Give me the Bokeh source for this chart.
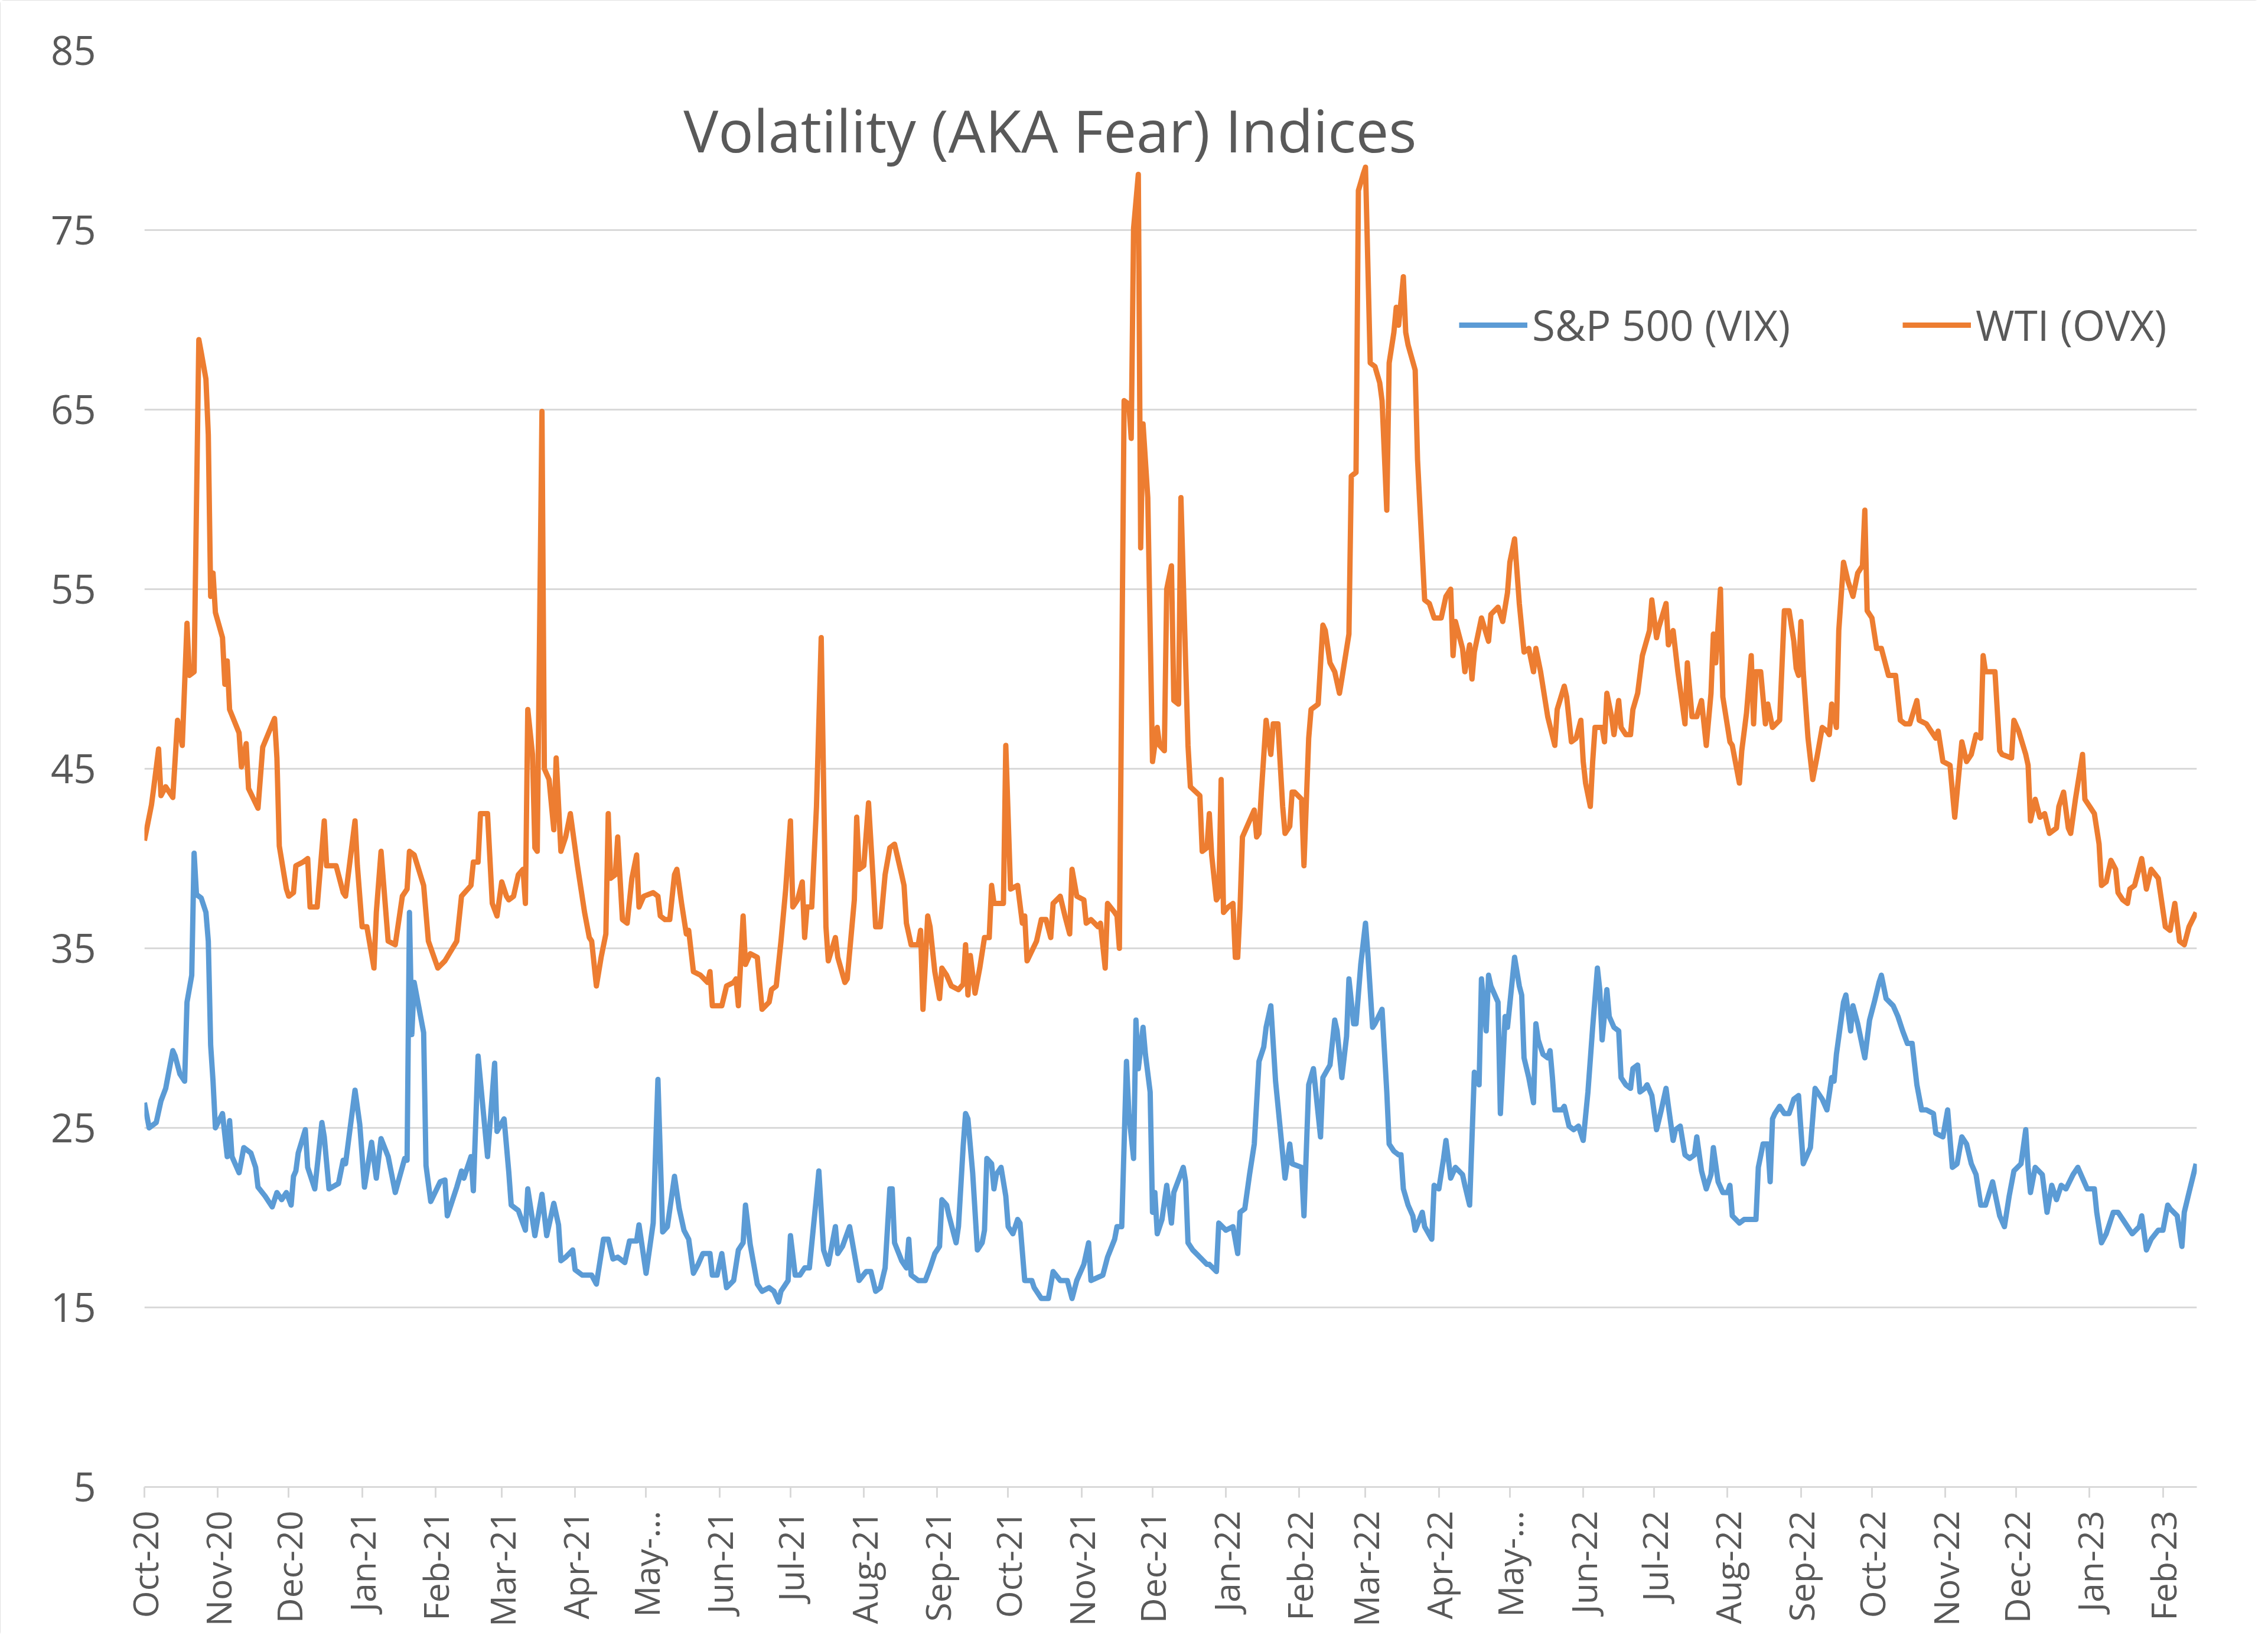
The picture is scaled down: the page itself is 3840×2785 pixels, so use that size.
import pandas as pd
from math import pi
from bokeh.plotting import figure
from bokeh.models import Range1d, FixedTicker, Label, Legend, LegendItem
from bokeh.embed import file_html
from bokeh.resources import INLINE

# ---------------- data ----------------
START_DATE = "2020-10-01"          # x values below are days after this date

month_labels = ["Oct-20", "Nov-20", "Dec-20", "Jan-21", "Feb-21", "Mar-21", "Apr-21", "May-…",
                "Jun-21", "Jul-21", "Aug-21", "Sep-21", "Oct-21", "Nov-21", "Dec-21", "Jan-22",
                "Feb-22", "Mar-22", "Apr-22", "May-…", "Jun-22", "Jul-22", "Aug-22", "Sep-22",
                "Oct-22", "Nov-22", "Dec-22", "Jan-23", "Feb-23"]
y_ticks = [5, 15, 25, 35, 45, 55, 65, 75, 85]
last_day = 867.3

series_names = ["S&P 500 (VIX)", "WTI (OVX)"]

ovx_day = [
    0, 3, 4, 6, 7, 9, 12, 14, 16, 18, 19, 21, 23, 24, 26, 27, 28, 29, 30, 33,
    34, 35, 36, 40, 41, 43, 44, 48, 50, 55, 56, 57, 60, 61, 63, 64, 67, 69, 70, 73,
    76, 77, 81, 84, 85, 89, 90, 92, 94, 97, 98, 100, 103, 106, 109, 111, 112, 114, 118, 120,
    124, 127, 132, 134, 138, 139, 141, 142, 145, 146, 147, 149, 151, 153, 154, 156, 158, 160, 161, 162,
    164, 165, 166, 168, 169, 171, 173, 174, 176, 178, 180, 183, 186, 188, 189, 191, 193, 195, 196, 197,
    199, 200, 202, 204, 206, 208, 209, 211, 215, 217, 218, 220, 222, 224, 225, 227, 229, 230, 232, 235,
    238, 239, 240, 244, 246, 249, 250, 251, 253, 254, 256, 259, 261, 264, 265, 267, 269, 271, 273, 274,
    276, 278, 279, 280, 282, 284, 286, 288, 289, 292, 293, 296, 297, 300, 301, 302, 304, 306, 308, 309,
    311, 313, 315, 317, 320, 321, 322, 324, 327, 328, 329, 331, 332, 334, 336, 337, 339, 341, 344, 346,
    347, 348, 349, 351, 353, 355, 357, 358, 359, 363, 364, 366, 369, 371, 372, 373, 377, 379, 381, 383,
    384, 387, 389, 391, 392, 394, 397, 398, 400, 403, 404, 406, 407, 410, 411, 412, 414, 416, 417, 418,
    420, 421, 422, 424, 426, 428, 429, 431, 432, 434, 435, 437, 438, 441, 442, 446, 447, 449, 450, 451,
    453, 454, 455, 456, 458, 460, 461, 462, 463, 464, 467, 469, 470, 471, 472, 474, 476, 477, 479, 481,
    482, 484, 485, 486, 489, 490, 492, 493, 496, 498, 499, 501, 503, 505, 506, 509, 510, 512, 513, 515,
    516, 518, 520, 522, 523, 525, 526, 528, 529, 530, 532, 533, 534, 537, 538, 541, 543, 545, 548, 550,
    552, 553, 554, 557, 558, 560, 561, 562, 565, 568, 569, 572, 574, 576, 577, 579, 581, 583, 585, 587,
    588, 590, 593, 596, 597, 600, 601, 603, 605, 607, 608, 609, 611, 612, 613, 616, 617, 618, 620, 621,
    623, 624, 626, 628, 629, 631, 633, 636, 637, 639, 640, 643, 644, 646, 648, 651, 652, 654, 656, 658,
    660, 662, 663, 664, 666, 667, 670, 671, 674, 675, 677, 679, 680, 681, 683, 685, 686, 688, 691, 693,
    695, 697, 698, 699, 700, 701, 703, 705, 707, 709, 711, 712, 713, 715, 716, 718, 720, 722, 724, 726,
    727, 728, 730, 732, 734, 737, 740, 742, 744, 746, 749, 750, 753, 755, 757, 758, 760, 763, 765, 766,
    768, 770, 772, 774, 776, 777, 778, 782, 784, 785, 789, 790, 792, 795, 796, 797, 799, 801, 803, 805,
    808, 809, 811, 813, 814, 816, 819, 820, 822, 824, 826, 827, 829, 831, 833, 834, 836, 838, 839, 841,
    844, 846, 848, 851, 854, 856, 858, 860, 862, 864, 867]
ovx = [
    41.0, 43.0, 44.0, 46.1, 43.5, 44.0, 43.4, 47.7, 46.3, 53.1, 50.2, 50.4, 68.9, 68.2, 66.7, 63.6, 54.6, 55.9, 53.7, 52.3,
    49.7, 51.0, 48.3, 47.0, 45.1, 46.4, 43.9, 42.8, 46.2, 47.8, 45.6, 40.7, 38.3, 37.9, 38.1, 39.6, 39.8, 40.0, 37.3, 37.3,
    42.1, 39.6, 39.6, 38.1, 37.9, 42.1, 39.6, 36.2, 36.2, 33.9, 37.0, 40.4, 35.4, 35.2, 37.9, 38.3, 40.4, 40.2, 38.5, 35.4,
    33.9, 34.3, 35.4, 37.9, 38.5, 39.8, 39.8, 42.5, 42.5, 40.0, 37.5, 36.8, 38.7, 37.9, 37.7, 37.9, 39.1, 39.4, 37.5, 48.3,
    45.8, 40.6, 40.4, 64.9, 45.0, 44.4, 41.6, 45.6, 40.4, 41.2, 42.5, 39.6, 37.0, 35.6, 35.4, 32.9, 34.5, 35.8, 42.5, 38.9,
    39.1, 41.2, 36.6, 36.4, 38.9, 40.2, 37.3, 37.9, 38.1, 37.9, 36.8, 36.6, 36.6, 39.1, 39.4, 37.5, 35.8, 36.0, 33.7, 33.5,
    33.1, 33.7, 31.8, 31.8, 32.9, 33.1, 33.3, 31.8, 36.8, 34.1, 34.7, 34.5, 31.6, 32.0, 32.7, 32.9, 35.4, 38.3, 42.1, 37.3,
    37.7, 38.7, 35.6, 37.3, 37.3, 42.9, 52.3, 36.2, 34.3, 35.6, 34.5, 33.1, 33.3, 37.7, 42.3, 39.4, 39.6, 43.1, 38.7, 36.2,
    36.2, 39.1, 40.6, 40.8, 39.1, 38.5, 36.4, 35.2, 35.2, 36.0, 31.6, 36.8, 36.2, 33.7, 32.2, 33.9, 33.5, 32.9, 32.7, 33.0,
    35.2, 32.4, 34.6, 32.5, 33.9, 35.6, 35.6, 38.5, 37.5, 37.5, 46.3, 38.3, 38.5, 36.4, 36.8, 34.3, 35.4, 36.6, 36.6, 35.6,
    37.5, 37.9, 36.8, 35.8, 39.4, 37.9, 37.7, 36.4, 36.6, 36.2, 36.4, 33.9, 37.5, 37.0, 36.8, 35.0, 65.5, 65.3, 63.4, 75.1,
    78.1, 57.3, 64.2, 60.1, 45.4, 47.3, 46.3, 46.0, 55.0, 56.3, 48.8, 48.6, 60.1, 46.3, 44.0, 43.5, 40.4, 40.6, 42.5, 40.2,
    37.7, 37.9, 44.4, 37.0, 37.3, 37.5, 34.5, 34.5, 37.3, 41.2, 42.1, 42.7, 41.2, 41.4, 43.7, 47.7, 45.8, 47.5, 47.5, 42.9,
    41.4, 41.8, 43.7, 43.7, 43.3, 39.6, 46.7, 48.3, 48.6, 53.0, 52.7, 50.9, 50.4, 49.2, 50.0, 52.5, 61.3, 61.5, 77.2, 78.1,
    78.5, 67.6, 67.4, 66.5, 65.5, 59.4, 67.6, 69.3, 70.7, 69.7, 72.4, 69.3, 68.6, 67.2, 62.2, 54.4, 54.2, 53.4, 53.4, 54.6,
    55.0, 51.3, 53.2, 51.7, 50.4, 51.9, 50.0, 51.5, 53.4, 52.1, 53.6, 54.0, 53.2, 54.8, 56.5, 57.8, 54.2, 51.5, 51.7, 50.4,
    51.7, 50.4, 47.9, 46.3, 48.3, 49.6, 49.0, 46.5, 46.7, 47.7, 45.4, 44.2, 42.9, 45.4, 47.3, 47.3, 46.5, 49.2, 47.9, 46.9,
    48.8, 47.3, 46.9, 46.9, 48.3, 49.2, 51.3, 52.7, 54.4, 52.3, 52.9, 54.2, 51.9, 52.7, 50.4, 47.5, 50.9, 47.9, 47.9, 48.8,
    46.3, 49.2, 52.5, 50.9, 55.0, 49.0, 46.5, 46.3, 44.2, 46.0, 48.1, 51.3, 47.5, 50.4, 50.4, 47.5, 48.6, 47.3, 47.7, 53.8,
    53.8, 52.1, 50.6, 50.2, 53.2, 50.4, 46.7, 44.4, 45.8, 47.3, 47.1, 46.9, 48.6, 47.3, 52.7, 56.5, 55.4, 54.6, 55.9, 56.3,
    59.4, 53.8, 53.4, 51.7, 51.7, 50.2, 50.2, 47.7, 47.5, 47.5, 48.8, 47.7, 47.5, 47.1, 46.7, 47.1, 45.4, 45.2, 42.3, 43.7,
    46.5, 45.4, 45.8, 46.9, 46.7, 51.3, 50.4, 50.4, 46.0, 45.8, 45.6, 47.7, 47.1, 45.8, 45.2, 42.1, 43.3, 42.3, 42.5, 41.4,
    41.7, 42.9, 43.7, 41.7, 41.4, 43.3, 45.8, 43.3, 42.9, 42.5, 40.8, 38.5, 38.7, 39.9, 39.4, 38.1, 37.7, 37.5, 38.3, 38.5,
    40.0, 38.3, 39.4, 38.9, 36.2, 36.0, 37.5, 35.4, 35.2, 36.2, 37.0]

vix_day = [
    0, 2, 5, 7, 9, 12, 13, 15, 17, 18, 20, 21, 22, 24, 26, 27, 28, 29, 30, 33,
    35, 36, 37, 40, 42, 45, 47, 48, 51, 54, 56, 58, 60, 62, 63, 64, 65, 68, 69, 72,
    75, 76, 78, 82, 84, 85, 89, 91, 93, 96, 98, 100, 103, 106, 110, 111, 112, 113, 114, 118,
    119, 121, 125, 127, 128, 132, 134, 135, 138, 139, 141, 145, 148, 149, 152, 154, 155, 158, 161, 162,
    165, 168, 170, 173, 175, 176, 178, 181, 182, 185, 189, 191, 194, 196, 198, 200, 203, 205, 208, 209,
    212, 215, 217, 219, 221, 224, 226, 228, 230, 232, 234, 236, 239, 240, 242, 244, 246, 249, 251, 253,
    254, 256, 259, 261, 264, 266, 268, 269, 272, 273, 275, 277, 279, 281, 284, 285, 287, 289, 292, 293,
    295, 298, 300, 302, 305, 307, 309, 311, 313, 315, 316, 317, 320, 322, 323, 324, 327, 330, 332, 334,
    336, 337, 339, 340, 343, 344, 346, 347, 348, 350, 352, 354, 355, 356, 358, 359, 360, 362, 364, 365,
    367, 369, 370, 372, 375, 376, 379, 382, 384, 387, 390, 392, 394, 397, 399, 400, 405, 407, 410, 411,
    413, 415, 416, 418, 419, 420, 422, 423, 425, 426, 427, 428, 430, 432, 434, 435, 439, 440, 441, 443,
    446, 449, 450, 453, 454, 457, 460, 462, 463, 465, 467, 469, 471, 473, 474, 476, 478, 480, 482, 484,
    485, 489, 490, 492, 494, 497, 498, 501, 503, 504, 506, 508, 509, 511, 512, 514, 516, 517, 519, 520,
    523, 525, 526, 528, 530, 531, 532, 534, 536, 537, 540, 541, 544, 545, 547, 549, 550, 552, 554, 557,
    558, 560, 562, 564, 565, 567, 568, 569, 572, 573, 575, 576, 579, 581, 582, 583, 585, 587, 588, 589,
    591, 593, 594, 595, 596, 599, 600, 602, 604, 606, 608, 610, 612, 614, 615, 616, 618, 619, 621, 623,
    624, 626, 628, 629, 631, 632, 634, 635, 637, 639, 641, 643, 644, 646, 647, 649, 651, 653, 655, 656,
    658, 660, 662, 663, 665, 667, 669, 670, 671, 674, 676, 678, 681, 682, 684, 686, 687, 688, 689, 691,
    693, 695, 697, 699, 701, 704, 706, 709, 711, 713, 714, 715, 718, 719, 721, 722, 724, 727, 729, 731,
    733, 734, 736, 739, 741, 743, 745, 747, 749, 751, 753, 756, 757, 760, 762, 764, 766, 768, 770, 772,
    774, 776, 778, 781, 784, 786, 788, 790, 793, 795, 796, 797, 799, 802, 804, 806, 808, 810, 812, 815,
    817, 819, 821, 824, 825, 827, 829, 832, 834, 836, 839, 840, 843, 844, 846, 848, 851, 853, 855, 856,
    859, 861, 862, 864, 867]
vix = [
    26.4, 25.0, 25.3, 26.5, 27.2, 29.3, 29.0, 28.0, 27.6, 32.0, 33.5, 40.3, 38.0, 37.8, 37.0, 35.4, 29.6, 27.6, 25.0, 25.8,
    23.4, 25.4, 23.4, 22.5, 23.9, 23.6, 22.8, 21.7, 21.2, 20.6, 21.4, 21.0, 21.4, 20.7, 22.3, 22.6, 23.6, 24.9, 22.8, 21.6,
    25.3, 24.5, 21.6, 21.9, 23.2, 23.0, 27.1, 25.2, 21.7, 24.2, 22.2, 24.4, 23.4, 21.4, 23.3, 23.2, 37.0, 30.2, 33.1, 30.3,
    22.9, 20.9, 22.0, 22.1, 20.1, 21.7, 22.6, 22.2, 23.4, 21.5, 29.0, 23.4, 28.6, 24.8, 25.5, 22.5, 20.7, 20.4, 19.3, 21.6,
    19.0, 21.3, 19.0, 20.8, 19.6, 17.6, 17.8, 18.2, 17.1, 16.8, 16.8, 16.3, 18.8, 18.8, 17.7, 17.8, 17.5, 18.7, 18.7, 19.6,
    16.9, 19.7, 27.7, 19.2, 19.5, 22.3, 20.5, 19.3, 18.8, 16.9, 17.4, 18.0, 18.0, 16.8, 16.8, 18.0, 16.1, 16.5, 18.2, 18.6,
    20.7, 18.5, 16.3, 15.9, 16.1, 15.9, 15.3, 15.9, 16.5, 19.0, 16.8, 16.8, 17.2, 17.2, 21.2, 22.6, 18.2, 17.4, 19.5, 18.0,
    18.4, 19.5, 18.0, 16.5, 17.0, 17.0, 15.9, 16.1, 17.2, 21.6, 21.6, 18.6, 17.6, 17.2, 18.8, 16.8, 16.5, 16.5, 17.2, 18.0,
    18.4, 21.0, 20.7, 20.1, 18.6, 19.5, 24.0, 25.8, 25.5, 22.5, 18.2, 18.6, 19.3, 23.3, 23.0, 21.6, 22.4, 22.8, 21.2, 19.5,
    19.1, 19.9, 19.7, 16.5, 16.5, 16.1, 15.5, 15.5, 17.0, 16.5, 16.5, 15.5, 16.5, 17.4, 18.6, 16.5, 16.8, 17.8, 18.8, 19.5,
    19.5, 28.7, 25.8, 23.3, 31.0, 28.3, 30.6, 29.1, 27.0, 20.3, 21.4, 19.1, 19.9, 21.8, 19.7, 21.4, 22.8, 22.0, 18.6, 18.2,
    17.8, 17.4, 17.4, 17.0, 19.7, 19.3, 19.5, 18.0, 20.3, 20.5, 22.4, 24.1, 28.7, 29.5, 30.6, 31.8, 27.6, 24.9, 22.2, 24.1,
    23.0, 22.8, 20.1, 27.4, 28.3, 24.5, 27.8, 28.5, 31.0, 30.4, 27.8, 30.1, 33.3, 30.8, 30.8, 34.1, 36.4, 34.7, 30.6, 30.8,
    31.6, 27.0, 24.1, 23.7, 23.5, 23.5, 21.6, 20.7, 20.1, 19.3, 20.3, 19.5, 18.8, 21.8, 21.6, 23.3, 24.3, 22.2, 22.8, 22.4,
    21.8, 20.7, 28.1, 27.4, 33.3, 30.4, 33.5, 32.9, 32.0, 25.8, 31.2, 30.6, 34.5, 32.9, 32.4, 28.9, 27.8, 26.4, 30.8, 29.9,
    29.1, 28.9, 29.3, 27.8, 26.0, 26.0, 26.2, 25.1, 24.9, 25.1, 24.3, 27.0, 30.6, 33.9, 32.7, 29.9, 32.7, 31.2, 30.6, 30.4,
    27.8, 27.4, 27.2, 28.3, 28.5, 27.0, 27.2, 27.4, 26.8, 24.9, 26.0, 27.2, 26.2, 24.3, 24.9, 25.1, 23.5, 23.3, 23.5, 24.5,
    22.6, 21.6, 22.4, 23.9, 22.0, 21.4, 21.4, 21.8, 20.1, 19.7, 19.9, 19.9, 19.9, 22.8, 24.1, 24.1, 22.0, 25.5, 25.8, 26.2,
    25.8, 25.8, 26.6, 26.8, 23.0, 23.9, 27.2, 26.6, 26.0, 27.8, 27.6, 29.1, 32.0, 32.4, 30.4, 31.8, 30.8, 28.9, 31.0, 32.0,
    33.1, 33.5, 32.2, 31.8, 31.2, 30.4, 29.7, 29.7, 27.4, 26.0, 26.0, 25.8, 24.7, 24.5, 26.0, 22.8, 23.0, 24.5, 24.1, 23.0,
    22.4, 20.7, 20.7, 22.0, 20.1, 19.5, 21.2, 22.6, 23.0, 24.9, 22.8, 21.4, 22.8, 22.4, 20.3, 21.8, 21.0, 21.8, 21.6, 22.4,
    22.8, 22.2, 21.6, 21.6, 20.3, 18.6, 19.1, 20.3, 20.3, 19.9, 19.3, 19.1, 19.5, 20.1, 18.2, 18.8, 19.3, 19.3, 20.7, 20.5,
    20.1, 18.4, 20.3, 21.4, 23.0]

assert len(ovx_day) == len(ovx) and len(vix_day) == len(vix)

# month-start tick positions (days after START_DATE)
start = pd.Timestamp(START_DATE)
month_starts = pd.date_range(START_DATE, periods=len(month_labels), freq="MS")
tick_days = [int((m - start).days) for m in month_starts]

# ---------------- styling ----------------
GREY_TXT = "#595959"
GRID = "#D9D9D9"
BLUE = "#5B9BD5"
ORANGE = "#ED7D31"
FONT = "Open Sans"

p = figure(width=3824, height=2769, output_backend="svg", toolbar_location=None,
           x_range=Range1d(0, last_day), y_range=Range1d(5, 85),
           min_border_left=244, min_border_right=105, min_border_top=85, min_border_bottom=252)
p.title.visible = False
p.outline_line_color = None
p.background_fill_color = "white"
p.border_fill_color = "white"
p.styles = {"outline": "4px solid #D9D9D9", "outline-offset": "-4px", "border-radius": "6px"}

r_vix = p.line(vix_day, vix, line_color=BLUE, line_width=9, line_join="round")
r_ovx = p.line(ovx_day, ovx, line_color=ORANGE, line_width=9, line_join="round")

# y axis
p.yaxis.ticker = FixedTicker(ticks=y_ticks)
p.yaxis.axis_line_color = None
p.yaxis.major_tick_line_color = None
p.yaxis.minor_tick_line_color = None
p.yaxis.major_label_standoff = 76
p.yaxis.major_label_text_font = FONT
p.yaxis.major_label_text_font_size = "67px"
p.yaxis.major_label_text_color = GREY_TXT

# x axis
p.xaxis.ticker = FixedTicker(ticks=tick_days)
p.xaxis.major_label_overrides = {d: lab for d, lab in zip(tick_days, month_labels)}
p.xaxis.major_label_orientation = pi / 2
p.xaxis.axis_line_color = GRID
p.xaxis.axis_line_width = 3
p.xaxis.major_tick_line_color = GRID
p.xaxis.major_tick_line_width = 3
p.xaxis.major_tick_in = 0
p.xaxis.major_tick_out = 18
p.xaxis.minor_tick_line_color = None
p.xaxis.major_label_standoff = 22
p.xaxis.major_label_text_font = FONT
p.xaxis.major_label_text_font_size = "59px"
p.xaxis.major_label_text_color = GREY_TXT

p.xgrid.grid_line_color = None
p.ygrid.grid_line_color = GRID
p.ygrid.grid_line_width = 3

# title inside the plot area
p.add_layout(Label(x=382.7, y=80.6, text="Volatility (AKA Fear) Indices",
                   text_font=FONT, text_font_size="99px", text_color=GREY_TXT,
                   text_align="center", text_baseline="middle"))

legend = Legend(items=[LegendItem(label=series_names[0], renderers=[r_vix]),
                       LegendItem(label=series_names[1], renderers=[r_ovx])],
                orientation="horizontal", location=(2226, 1919),
                border_line_color=None, background_fill_alpha=0,
                padding=0, margin=0, spacing=190,
                glyph_width=116, glyph_height=96, label_height=96, label_standoff=8,
                label_text_font=FONT, label_text_font_size="71px",
                label_text_color=GREY_TXT)
p.add_layout(legend, "center")

open("out.html", "w").write(file_html(p, INLINE))
